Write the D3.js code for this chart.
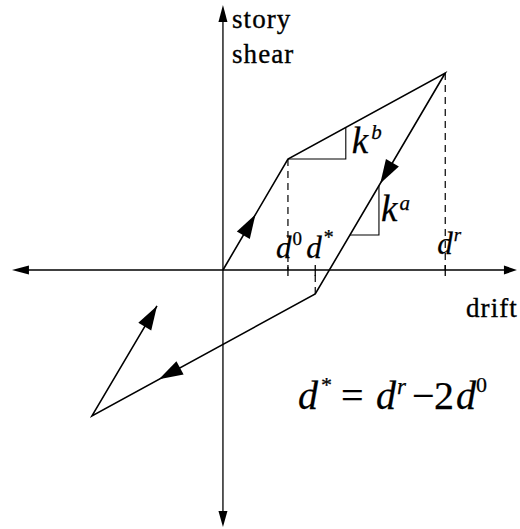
<!DOCTYPE html>
<html>
<head>
<meta charset="utf-8">
<script src="https://cdn.jsdelivr.net/npm/d3@7"></script>
<style>
  html, body { margin: 0; padding: 0; background: #fff; }
  svg { display: block; }
  .word { font-family: "Liberation Serif", serif; font-size: 27px; letter-spacing: 1.1px;
          fill: #000; stroke: #000; stroke-width: 0.35px; }
  .math { font-family: "Liberation Serif", serif; font-style: italic; fill: #000;
          stroke: #000; stroke-width: 0.25px; }
  .up { font-style: normal; }
</style>
</head>
<body>
<svg id="chart" width="520" height="529"></svg>
<script>
// Hysteresis rule for a story: drift (horizontal) against story shear (vertical).
// Drift is in units of the yield drift d0, shear in units of the yield shear.
const d0 = 1.0;       // yield drift
const dr = 3.42;      // largest drift reached before unloading
const dStar = 1.42;   // drift at which unloading meets the reloading branch (d* = dr - 2 d0)

// Loading / unloading / reloading path, point by point
const pathDrift = [0, 1.0, 3.42, 1.42, -2.015, -1.015];
const pathShear = [0, 1.0, 1.775, -0.216, -1.315, -0.324];

// Direction arrows: segment index and position along it (1 = arrow ends the segment)
const arrowSegments = [0, 2, 3, 4];
const arrowPositions = [0.5, 0.5, 0.7, 1.0];

// Marked drifts on the horizontal axis and their labels
const tickDrift = [d0, dStar, dr];
const tickBase = ["d", "d", "d"];
const tickSup = ["0", "*", "r"];

// Stiffness triangles: kb on the post-yield branch, ka on the unloading branch
const kbRunEnd = 1.89;      // horizontal leg of kb runs from the yield point to this drift
const kaLegShear = 0.315;   // horizontal leg of ka lies at this shear
const kaLegDrift = 2.4;     // vertical leg of ka stands at this drift

// Axis extents
const driftExtent = [-3.246, 4.523];
const shearExtent = [-2.315, 2.387];

const W = 520, H = 529;
const x = d3.scaleLinear().domain([-3.43, 4.57]).range([0, W]);
const y = d3.scaleLinear().domain([2.4324, -2.3333]).range([0, H]);

const svg = d3.select("#chart");
const pts = pathDrift.map((d, i) => [d, pathShear[i]]);

// point on the straight line through a and b at a given drift or shear
const shearAtDrift = (a, b, d) => a[1] + (b[1] - a[1]) * (d - a[0]) / (b[0] - a[0]);
const driftAtShear = (a, b, v) => a[0] + (b[0] - a[0]) * (v - a[1]) / (b[1] - a[1]);

function arrowHead(g, tipX, tipY, ux, uy, len, half) {
  const bx = tipX - ux * len, by = tipY - uy * len;
  const px = -uy, py = ux;
  g.append("path")
    .attr("d", `M${tipX},${tipY}L${bx + px * half},${by + py * half}L${bx - px * half},${by - py * half}Z`)
    .attr("fill", "#000");
}

// ---- axes ----
const axes = svg.append("g");
axes.append("line")
  .attr("x1", x(driftExtent[0]) + 12).attr("x2", x(driftExtent[1]) - 8)
  .attr("y1", y(0)).attr("y2", y(0))
  .attr("stroke", "#000").attr("stroke-width", 1.3);
axes.append("line")
  .attr("x1", x(0)).attr("x2", x(0))
  .attr("y1", y(shearExtent[1]) + 12).attr("y2", y(shearExtent[0]) - 12)
  .attr("stroke", "#000").attr("stroke-width", 1.3);
arrowHead(axes, x(driftExtent[0]), y(0), -1, 0, 17, 4.5);
arrowHead(axes, x(driftExtent[1]), y(0), 1, 0, 13, 4.5);
arrowHead(axes, x(0), y(shearExtent[1]), 0, -1, 17, 4.5);
arrowHead(axes, x(0), y(shearExtent[0]), 0, 1, 16, 4.5);

// axis titles
svg.append("text").attr("class", "word").attr("x", x(0) + 9).attr("y", 28).text("story");
svg.append("text").attr("class", "word").attr("x", x(0) + 9).attr("y", 63).text("shear");
svg.append("text").attr("class", "word").attr("x", x(driftExtent[1]) + 1).attr("y", 317)
  .attr("text-anchor", "end").text("drift");

// ---- dashed drops from the path to the axis ----
const drops = [[d0, pathShear[1]], [dStar, pathShear[3]], [dr, pathShear[2]]];
svg.append("g").selectAll("line").data(drops).join("line")
  .attr("x1", d => x(d[0])).attr("x2", d => x(d[0]))
  .attr("y1", d => y(d[1])).attr("y2", y(0))
  .attr("stroke", "#000").attr("stroke-width", 1.2)
  .attr("stroke-dasharray", "7,5");

// small ticks on the axis at the marked drifts
svg.append("g").selectAll("line").data(tickDrift).join("line")
  .attr("x1", d => x(d)).attr("x2", d => x(d))
  .attr("y1", y(0) - 5).attr("y2", y(0) + 6)
  .attr("stroke", "#000").attr("stroke-width", 1.3);

// tick labels d0, d*, dr
const tickLabelDx = [-12, -9, -8];
const tickLabelY = [258, 258, 254];
const tl = svg.append("g").selectAll("text").data(tickDrift).join("text")
  .attr("class", "math").attr("font-size", 31)
  .attr("x", (d, i) => x(d) + tickLabelDx[i])
  .attr("y", (d, i) => tickLabelY[i]);
tl.append("tspan").text((d, i) => tickBase[i]);
tl.append("tspan")
  .attr("class", (d, i) => tickSup[i] === "0" ? "up" : null)
  .attr("font-size", (d, i) => tickSup[i] === "*" ? 20 : 19)
  .attr("dx", 1)
  .attr("dy", (d, i) => tickSup[i] === "*" ? -14 : -13)
  .text((d, i) => tickSup[i]);

// ---- hysteresis path ----
svg.append("path")
  .datum(pts)
  .attr("d", d3.line().x(d => x(d[0])).y(d => y(d[1])))
  .attr("fill", "none").attr("stroke", "#000").attr("stroke-width", 1.6)
  .attr("stroke-linejoin", "miter");

const arrows = svg.append("g");
arrowSegments.forEach((s, i) => {
  const a = pts[s], b = pts[s + 1], t = arrowPositions[i];
  const ax = x(a[0]), ay = y(a[1]), bx = x(b[0]), by = y(b[1]);
  const L = Math.hypot(bx - ax, by - ay);
  arrowHead(arrows, ax + (bx - ax) * t, ay + (by - ay) * t, (bx - ax) / L, (by - ay) / L, 24, 7.5);
});

// ---- stiffness triangles ----
const yieldPt = pts[1], peakPt = pts[2], revPt = pts[3];
const kbTop = shearAtDrift(yieldPt, peakPt, kbRunEnd);
const kaTop = shearAtDrift(peakPt, revPt, kaLegDrift);
const kaStart = driftAtShear(peakPt, revPt, kaLegShear);
const tri = d3.line().x(d => x(d[0])).y(d => y(d[1]));
svg.append("path")
  .attr("d", tri([[yieldPt[0], yieldPt[1]], [kbRunEnd, yieldPt[1]], [kbRunEnd, kbTop]]))
  .attr("fill", "none").attr("stroke", "#000").attr("stroke-width", 1.1);
svg.append("path")
  .attr("d", tri([[kaStart, kaLegShear], [kaLegDrift, kaLegShear], [kaLegDrift, kaTop]]))
  .attr("fill", "none").attr("stroke", "#000").attr("stroke-width", 1.1);

const kb = svg.append("text").attr("class", "math").attr("font-size", 37)
  .attr("x", x(kbRunEnd) + 6).attr("y", 153);
kb.append("tspan").text("k");
kb.append("tspan").attr("font-size", 21).attr("dx", 3).attr("dy", -14).text("b");

const ka = svg.append("text").attr("class", "math").attr("font-size", 37)
  .attr("x", x(kaLegDrift) + 2).attr("y", 221);
ka.append("tspan").text("k");
ka.append("tspan").attr("font-size", 21).attr("dx", 2).attr("dy", -11).text("a");

// ---- relation between the marked drifts ----
const eq = svg.append("text").attr("class", "math").attr("font-size", 40).attr("y", 409);
eq.append("tspan").attr("x", 298).text("d");
eq.append("tspan").attr("x", 320).attr("font-size", 22).attr("dy", -17).text("*");
eq.append("tspan").attr("x", 341).attr("class", "up").attr("dy", 17).text("=");
eq.append("tspan").attr("x", 376).text("d");
eq.append("tspan").attr("x", 397).attr("font-size", 23).attr("dy", -15).text("r");
eq.append("tspan").attr("x", 412).attr("class", "up").attr("dy", 15).text("\u2212");
eq.append("tspan").attr("x", 434).attr("class", "up").text("2");
eq.append("tspan").attr("x", 456).text("d");
eq.append("tspan").attr("x", 476).attr("class", "up").attr("font-size", 22).attr("dy", -17).text("0");
</script>
</body>
</html>
